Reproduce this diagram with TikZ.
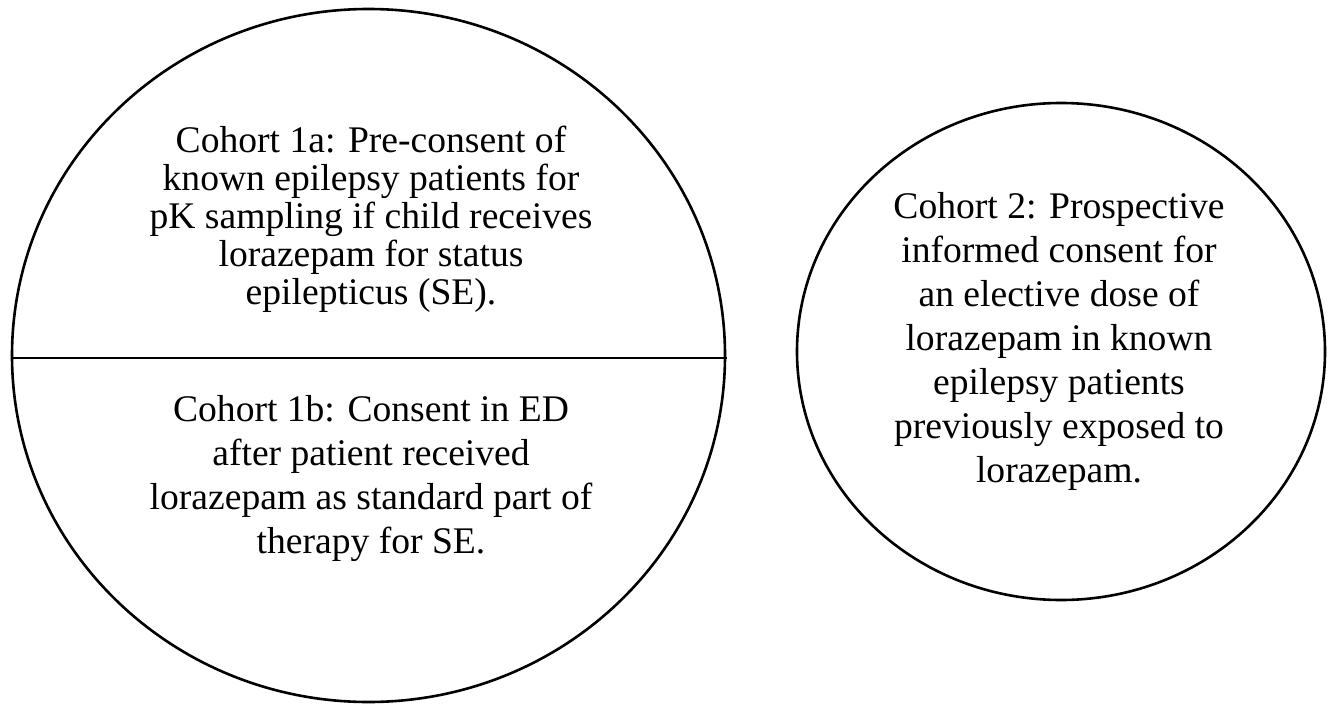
\documentclass[tikz,border=0pt]{standalone}
\usepackage{fontspec}
\setmainfont{Liberation Serif}
\usetikzlibrary{shapes.geometric}
\tikzset{
  ring/.style={draw=black, line width=2.6pt, ellipse, inner sep=0pt},
  label text/.style={align=center, inner sep=0pt, font=\fontsize{37.6}{44}\selectfont},
  tight text/.style={align=center, inner sep=0pt, font=\fontsize{37.6}{38}\selectfont},
  divider/.style={draw=black, line width=2.6pt}
}
\begin{document}
\begin{tikzpicture}[x=1pt,y=-1pt]
\useasboundingbox (0,0) rectangle (1332,706);
\node[ring, minimum width=713pt, minimum height=693pt] (c1) at (368.5,355.5) {};
\node[ring, minimum width=528pt, minimum height=497pt] (c2) at (1061,351.5) {};
\coordinate (dl) at (13,358);
\coordinate (dr) at (727,358);
\draw[divider] (dl) -- (dr);
\node[tight text] (t1a) at (371,219) {Cohort 1a: Pre-consent of\\known epilepsy patients for\\pK sampling if child receives\\lorazepam for status\\epilepticus (SE).};
\node[label text] (t1b) at (371,479) {Cohort 1b: Consent in ED\\after patient received\\lorazepam as standard part of\\therapy for SE.};
\node[label text] (t2) at (1059,341) {Cohort 2: Prospective\\informed consent for\\an elective dose of\\lorazepam in known\\epilepsy patients\\previously exposed to\\lorazepam.};
\end{tikzpicture}
\end{document}
